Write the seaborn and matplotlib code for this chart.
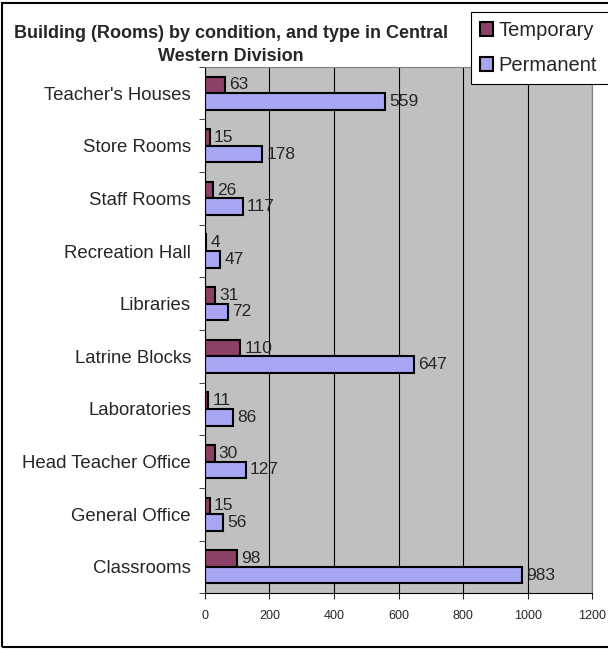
import pandas as pd
import seaborn as sns
import matplotlib.pyplot as plt
from matplotlib.patches import Rectangle

# === Data ===
rooms = ["Teacher's Houses", "Store Rooms", "Staff Rooms", "Recreation Hall", "Libraries",
         "Latrine Blocks", "Laboratories", "Head Teacher Office", "General Office", "Classrooms"]
temporary = [63, 15, 26, 4, 31, 110, 11, 30, 15, 98]
permanent = [559, 178, 117, 47, 72, 647, 86, 127, 56, 983]
x_ticks = [0, 200, 400, 600, 800, 1000, 1200]

df = pd.DataFrame({
    "room": rooms * 2,
    "count": temporary + permanent,
    "condition": ["Temporary"] * len(rooms) + ["Permanent"] * len(rooms),
})

sns.set_style("white")
plt.rcParams["font.family"] = ["Liberation Sans", "DejaVu Sans"]

fig = plt.figure(figsize=(6.08, 6.49), dpi=100)
ax = fig.add_axes([0.337, 0.086, 0.637, 0.811])

sns.barplot(data=df, y="room", x="count", hue="condition", order=rooms,
            hue_order=["Temporary", "Permanent"],
            palette={"Temporary": "#993366", "Permanent": "#9999ff"},
            width=0.63, edgecolor="black", linewidth=1.5, ax=ax, legend=True)

ax.set_facecolor("#c0c0c0")
ax.set_xlim(0, 1200)
ax.set_xticks(x_ticks)
ax.set_xticklabels([str(t) for t in x_ticks], fontsize=9)
ax.tick_params(axis="y", labelsize=13.4, length=0, pad=10)
ax.tick_params(axis="x", length=4, direction="out", bottom=True, pad=8)
ax.set_yticks([i + 0.5 for i in range(-1, len(rooms))], minor=True)
ax.tick_params(axis="y", which="minor", length=4, left=True, direction="out")
ax.set_xlabel("")
ax.set_ylabel("")
ax.xaxis.grid(True, color="black", linewidth=0.8)
ax.set_axisbelow(True)
for side in ["top", "right"]:
    ax.spines[side].set_color("#808080")
for side in ["left", "bottom"]:
    ax.spines[side].set_color("black")

for cont in ax.containers:
    ax.bar_label(cont, fontsize=12.5, padding=3)

# legend sits in the top right corner and runs off the edge
handles, labels = ax.get_legend_handles_labels()
ax.get_legend().remove()
leg = fig.legend(handles, labels, loc="upper left", bbox_to_anchor=(0.775, 0.9815, 0.3, 0),
                 mode="expand", fontsize=14.5, frameon=True, fancybox=False,
                 edgecolor="black", framealpha=1, handlelength=0.65, handleheight=0.65,
                 handletextpad=0.25, borderpad=0.45, labelspacing=0.8, borderaxespad=0)
leg.get_frame().set_linewidth(0.8)
for h in leg.legend_handles:
    h.set_edgecolor("black")
    h.set_linewidth(1.5)

fig.text(0.38, 0.9307, "Building (Rooms) by condition, and type in Central\nWestern Division",
         ha="center", va="center", fontsize=13, fontweight="bold", linespacing=1.5)

fig.patches.append(Rectangle((0.003, 0.003), 1.2, 0.992, transform=fig.transFigure,
                             fill=False, edgecolor="black", linewidth=1.5))

fig.savefig("out.png", dpi=100)
